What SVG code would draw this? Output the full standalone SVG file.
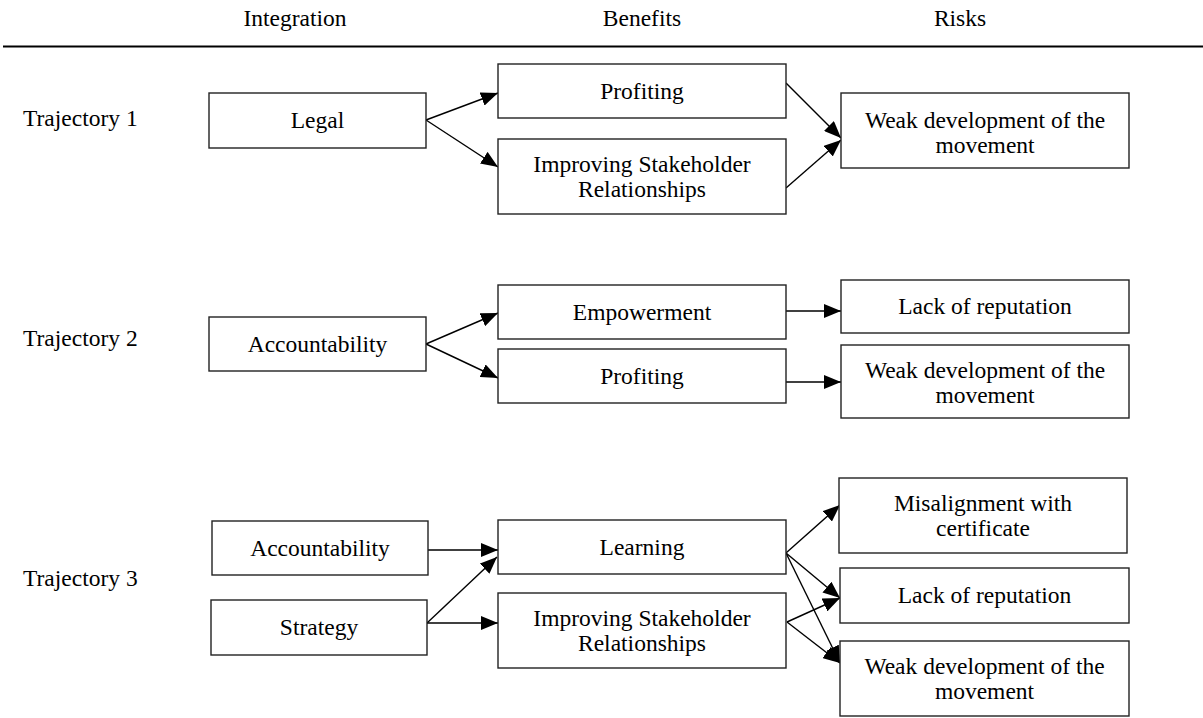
<svg xmlns="http://www.w3.org/2000/svg" width="1203" height="718" viewBox="0 0 1203 718">
<style>
text{font-family:"Liberation Serif","Times New Roman",serif;font-size:23.5px;fill:#000;}
.c{text-anchor:middle;}
rect{fill:#fff;stroke:#222;stroke-width:1.4;}
.e{stroke:#000;stroke-width:1.4;fill:none;marker-end:url(#ah);}
</style>
<defs>
<marker id="ah" markerUnits="userSpaceOnUse" markerWidth="17" markerHeight="14" refX="17" refY="7" orient="auto">
<path d="M0,0 L17,7 L0,14 z" fill="#000"/>
</marker>
</defs>
<rect width="1203" height="718" style="fill:#fff;stroke:none"/>
<g id="header">
<text x="295" y="26" class="c">Integration</text>
<text x="642" y="26" class="c">Benefits</text>
<text x="960" y="26" class="c">Risks</text>
<line x1="3" y1="46.5" x2="1203" y2="46.5" stroke="#000" stroke-width="2"/>
</g>
<g id="row-labels">
<text x="23" y="126">Trajectory 1</text>
<text x="23" y="346">Trajectory 2</text>
<text x="23" y="586">Trajectory 3</text>
</g>
<g id="connectors">
<line class="e" x1="426" y1="120" x2="498" y2="93"/>
<line class="e" x1="426" y1="120" x2="498" y2="167"/>
<line class="e" x1="786" y1="83" x2="841" y2="138"/>
<line class="e" x1="786" y1="188" x2="841" y2="140"/>
<line class="e" x1="426" y1="344" x2="498" y2="313"/>
<line class="e" x1="426" y1="344" x2="498" y2="378"/>
<line class="e" x1="786" y1="311" x2="841" y2="311"/>
<line class="e" x1="786" y1="382" x2="841" y2="382"/>
<line class="e" x1="428" y1="550" x2="498" y2="550"/>
<line class="e" x1="427" y1="623" x2="497" y2="557"/>
<line class="e" x1="427" y1="623" x2="498" y2="623"/>
<line class="e" x1="786" y1="553" x2="840" y2="505"/>
<line class="e" x1="786" y1="553" x2="840" y2="598"/>
<line class="e" x1="786" y1="553" x2="840" y2="663"/>
<line class="e" x1="787" y1="622" x2="840" y2="598"/>
<line class="e" x1="787" y1="622" x2="840" y2="663"/>
</g>
<g id="t1-legal"><rect x="209" y="93" width="217" height="55"/><text x="317.5" y="128" class="c">Legal</text></g>
<g id="t1-profiting"><rect x="498" y="64" width="288" height="54"/><text x="642" y="99" class="c">Profiting</text></g>
<g id="t1-isr"><rect x="498" y="139" width="288" height="75"/><text x="642" y="171.5" class="c">Improving Stakeholder</text><text x="642" y="196.5" class="c">Relationships</text></g>
<g id="t1-weak"><rect x="841" y="93" width="288" height="75"/><text x="985" y="128" class="c">Weak development of the</text><text x="985" y="153" class="c">movement</text></g>
<g id="t2-accountability"><rect x="209" y="317" width="217" height="54"/><text x="317.5" y="351.5" class="c">Accountability</text></g>
<g id="t2-empowerment"><rect x="498" y="285" width="288" height="54"/><text x="642" y="319.5" class="c">Empowerment</text></g>
<g id="t2-profiting"><rect x="498" y="349" width="288" height="54"/><text x="642" y="383.5" class="c">Profiting</text></g>
<g id="t2-lack"><rect x="841" y="280" width="288" height="53"/><text x="985" y="314" class="c">Lack of reputation</text></g>
<g id="t2-weak"><rect x="841" y="345" width="288" height="73"/><text x="985" y="378" class="c">Weak development of the</text><text x="985" y="403" class="c">movement</text></g>
<g id="t3-accountability"><rect x="212" y="521" width="216" height="54"/><text x="320" y="555.5" class="c">Accountability</text></g>
<g id="t3-strategy"><rect x="211" y="600" width="216" height="55"/><text x="319" y="635" class="c">Strategy</text></g>
<g id="t3-learning"><rect x="498" y="520" width="288" height="54"/><text x="642" y="554.5" class="c">Learning</text></g>
<g id="t3-isr"><rect x="498" y="593" width="288" height="75"/><text x="642" y="625.5" class="c">Improving Stakeholder</text><text x="642" y="650.5" class="c">Relationships</text></g>
<g id="t3-misalignment"><rect x="839" y="478" width="288" height="75"/><text x="983" y="511" class="c">Misalignment with</text><text x="983" y="536" class="c">certificate</text></g>
<g id="t3-lack"><rect x="840" y="568" width="289" height="55"/><text x="984.5" y="603" class="c">Lack of reputation</text></g>
<g id="t3-weak"><rect x="840" y="641" width="289" height="75"/><text x="984.5" y="673.5" class="c">Weak development of the</text><text x="984.5" y="698.5" class="c">movement</text></g>
</svg>
